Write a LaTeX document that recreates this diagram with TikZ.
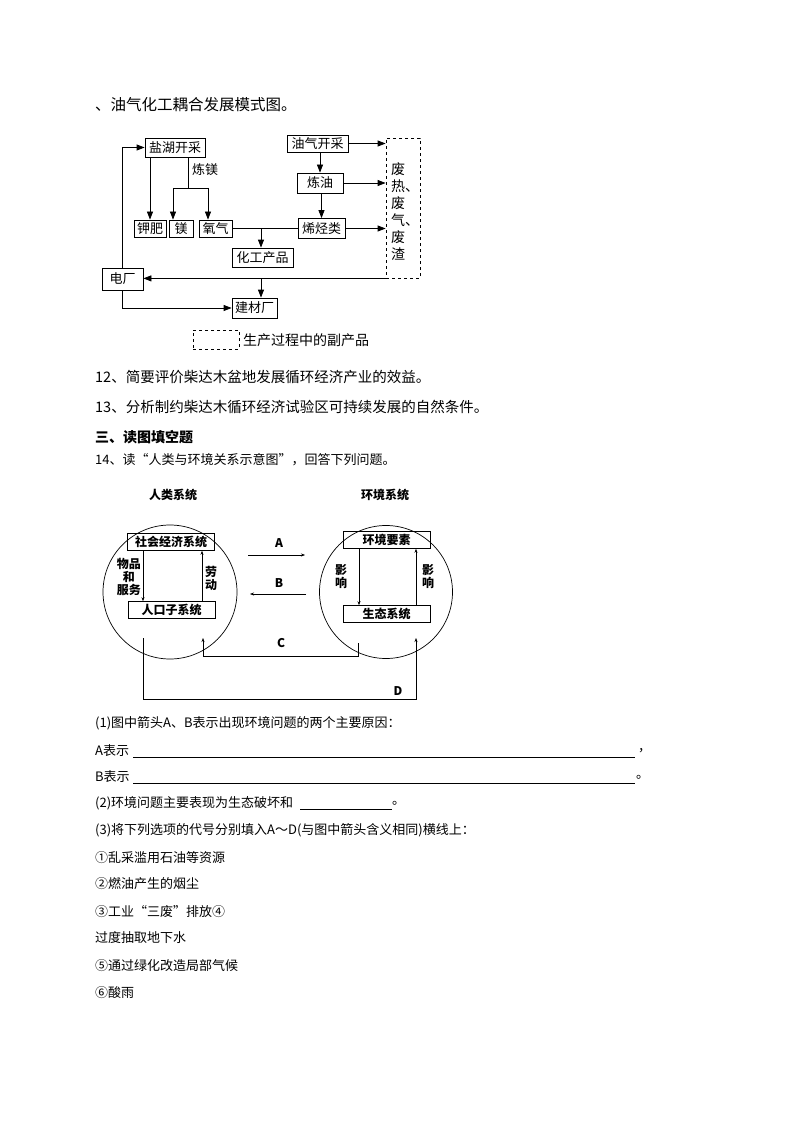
\documentclass[tikz,border=0pt]{standalone}
\usepackage{fontspec}
\setmainfont{Noto Sans CJK SC}
\usetikzlibrary{arrows.meta}
\begin{document}
\begin{tikzpicture}[x=1pt,y=-1pt,
  bx/.style={draw,line width=0.8pt,inner sep=0pt,minimum width=#1,minimum height=19pt,font=\fontsize{13}{13}\selectfont},
  bx/.default=40pt,
  ln/.style={line width=0.8pt},
  ar/.style={line width=0.8pt,-{Triangle[length=8pt,width=6pt]}},
  sa/.style={line width=0.5pt,-{Stealth[length=4pt,width=3pt]}},
  sb/.style={draw,line width=0.6pt,inner sep=0pt,minimum width=87pt,minimum height=17pt,font=\fontsize{12}{12}\selectfont\bfseries},
  tx/.style={anchor=west,inner sep=0pt,font=\fontsize{14}{14}\selectfont},
  ty/.style={anchor=west,inner sep=0pt,font=\fontsize{13}{13}\selectfont},
  lb/.style={inner sep=0pt,font=\fontsize{12}{13}\selectfont\bfseries,align=center}]
\useasboundingbox (0,0) rectangle (794,1123);
\fill[white] (0,0) rectangle (794,1123);
% ---------- top diagram ----------
\node[tx,font=\fontsize{15.5}{15.5}\selectfont] (t0) at (95,105) {、油气化工耦合发展模式图。};
\node[bx=60pt] (yh) at (175,147.5) {盐湖开采};
\node[bx=61pt,minimum height=17pt] (yq) at (317.5,143.5) {油气开采};
\node[bx=46pt,minimum height=20pt] (ly) at (320,183) {炼油};
\node[bx=47pt,minimum height=20pt] (xt) at (321.5,228.5) {烯烃类};
\node[draw,dashed,line width=0.8pt,minimum width=34pt,minimum height=140pt,inner sep=0pt] (fq) at (403,208) {};
\node[inner sep=0pt,font=\fontsize{14}{17}\selectfont,align=left] (fqt) at (405,212) {废\\热、\\废\\气、\\废\\渣};
\node[bx=32pt,minimum height=17pt] (jf) at (150,228.5) {钾肥};
\node[bx=24pt,minimum height=17pt] (mg) at (181,228.5) {镁};
\node[bx=33pt,minimum height=17pt] (yqi) at (215.5,228.5) {氧气};
\node[bx=61pt] (hg) at (262.5,257.5) {化工产品};
\node[bx=41pt,minimum height=22pt] (dc) at (122.5,279) {电厂};
\node[bx=45pt,minimum height=20pt] (jc) at (254.5,308) {建材厂};
\node[draw,dashed,line width=0.8pt,minimum width=46pt,minimum height=19pt,inner sep=0pt] (lg) at (216,339.5) {};
\node[tx] (lgt) at (243,340) {生产过程中的副产品};
\node[tx,font=\fontsize{13}{13}\selectfont] (lm) at (192,170) {炼镁};
\coordinate (m1) at (188,188);
\coordinate (m2) at (173,188);
\coordinate (m3) at (208,188);
\draw[ar] (dc.north) |- (yh.west);
\draw[ar] (yh.south -| jf.north) -- (jf.north);
\draw[ln] (yh.south -| m1) -- (m1);
\draw[ln] (m2) -- (m3);
\draw[ar] (m2) -- (mg.north -| m2);
\draw[ar] (m3) -- (yqi.north -| m3);
\draw[ln] (yqi.east) -- (xt.west);
\coordinate (h1) at (261,228.5);
\draw[ar] (h1) -- (hg.north -| h1);
\draw[ar] (yq.east) -- (yq.east -| fq.west);
\draw[ar] (ly.east) -- (ly.east -| fq.west);
\draw[ar] (xt.east) -- (xt.east -| fq.west);
\draw[ar] (yq.south -| ly.north) -- (ly.north);
\draw[ar] (ly.south -| xt.north) -- (xt.north);
\coordinate (b1) at (261,278);
\draw[ar] (fq.south west) -- (dc.east |- fq.south);
\draw[ar] (b1) -- (jc.north -| b1);
\draw[ar] (dc.south) |- (jc.west);
% ---------- text ----------
\node[tx,font=\fontsize{14.5}{14.5}\selectfont] (q12) at (95,377) {12、简要评价柴达木盆地发展循环经济产业的效益。};
\node[tx,font=\fontsize{14.5}{14.5}\selectfont] (q13) at (95,407) {13、分析制约柴达木循环经济试验区可持续发展的自然条件。};
\node[tx,font=\fontsize{14}{14}\selectfont\bfseries] (s3) at (95,437) {三、读图填空题};
\node[ty] (q14) at (95,460) {14、读“人类与环境关系示意图”，回答下列问题。};
% ---------- second diagram ----------
\node[lb] (rl) at (173,495) {人类系统};
\node[lb] (hj) at (385,495) {环境系统};
\node[draw,circle,line width=0.7pt,minimum size=134pt,inner sep=0pt] (c1) at (170,592) {};
\node[draw,circle,line width=0.7pt,minimum size=133pt,inner sep=0pt] (c2) at (386,592) {};
\node[sb] (sh) at (171,542) {社会经济系统};
\node[sb] (rk) at (171.5,610) {人口子系统};
\node[sb] (hy) at (386.5,540) {环境要素};
\node[sb] (st) at (386.5,614) {生态系统};
\coordinate (p1) at (143,0);
\coordinate (p2) at (202,0);
\draw[sa] (sh.south -| p1) -- (rk.north -| p1);
\draw[sa] (rk.north -| p2) -- (sh.south -| p2);
\node[lb,anchor=east] (wp) at (141,577) {物品\\和\\服务};
\node[lb] (ld) at (211,578) {劳\\动};
\coordinate (q1) at (359,0);
\coordinate (q2) at (416,0);
\draw[sa] (hy.south -| q1) -- (st.north -| q1);
\draw[sa] (st.north -| q2) -- (hy.south -| q2);
\node[lb] (y1) at (341,577) {影\\响};
\node[lb] (y2) at (428,577) {影\\响};
\coordinate (a1) at (248,555);
\coordinate (a2) at (305,555);
\coordinate (b2) at (306,594);
\coordinate (b3) at (250,594);
\draw[sa] (a1) -- (a2);
\draw[sa] (b2) -- (b3);
\node[lb] (la) at (279,543) {A};
\node[lb] (lbb) at (279,583) {B};
\coordinate (c0) at (358,643);
\coordinate (c3) at (203,638);
\draw[sa] (c0) -- (358,656) -| (c3);
\node[lb] (lc) at (281,643) {C};
\coordinate (d0) at (143,638);
\coordinate (d3) at (416,638);
\draw[sa] (d0) -- (143,699) -| (d3);
\node[lb] (ldd) at (398,691) {D};
% ---------- questions ----------
\node[ty] (a) at (95,723) {(1)图中箭头A、B表示出现环境问题的两个主要原因：};
\node[ty] (aa) at (95,751) {A表示};
\coordinate (u1) at (133,757);
\coordinate (u2) at (635,757);
\draw[line width=0.5pt] (u1) -- (u2);
\node[ty] (ac) at (638,751) {，};
\node[ty] (bb) at (95,777) {B表示};
\coordinate (v1) at (133,783);
\coordinate (v2) at (635,783);
\draw[line width=0.5pt] (v1) -- (v2);
\node[ty] (bc) at (636,777) {。};
\node[ty] (q2t) at (95,803) {(2)环境问题主要表现为生态破坏和};
\coordinate (w1) at (300,809);
\coordinate (w2) at (392,809);
\draw[line width=0.5pt] (w1) -- (w2);
\node[ty] (q2e) at (392,803) {。};
\node[ty] (q3) at (95,830) {(3)将下列选项的代号分别填入A～D(与图中箭头含义相同)横线上：};
\node[ty] (o1) at (95,858) {①乱采滥用石油等资源};
\node[ty] (o2) at (95,884) {②燃油产生的烟尘};
\node[ty] (o3) at (95,912) {③工业“三废”排放④};
\node[ty] (o4) at (95,938) {过度抽取地下水};
\node[ty] (o5) at (95,966) {⑤通过绿化改造局部气候};
\node[ty] (o6) at (95,993) {⑥酸雨};
\end{tikzpicture}
\end{document}
